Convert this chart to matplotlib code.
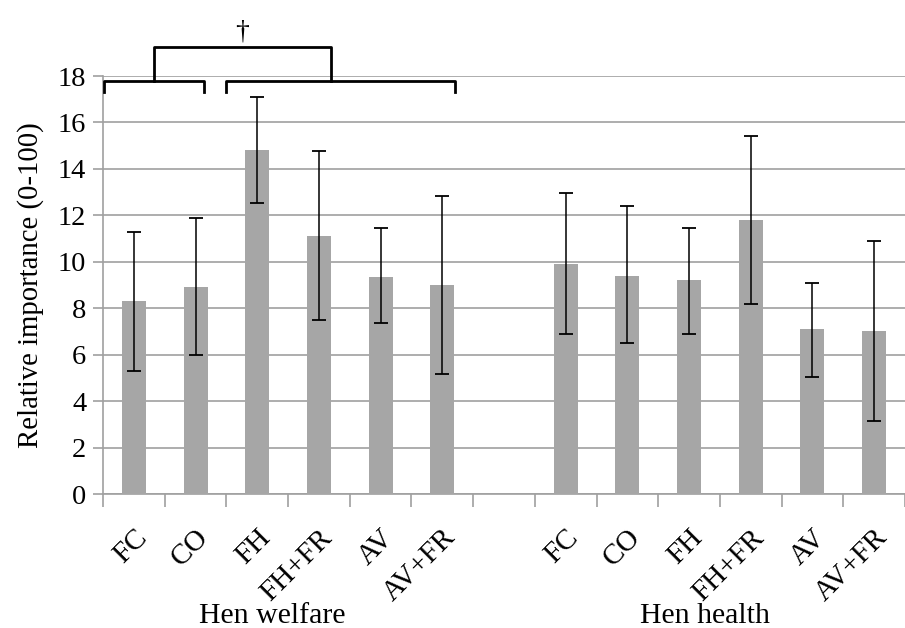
import matplotlib
matplotlib.use("Agg")
import matplotlib.pyplot as plt
import numpy as np

plt.rcParams["font.family"] = ["Liberation Serif", "DejaVu Serif"]

categories = ["FC", "CO", "FH", "FH+FR", "AV", "AV+FR"]
groups = ["Hen welfare", "Hen health"]

welfare_mean = [8.3, 8.9, 14.8, 11.1, 9.35, 9.0]
welfare_low  = [5.3, 6.0, 12.55, 7.5, 7.35, 5.15]
welfare_high = [11.3, 11.9, 17.1, 14.75, 11.45, 12.85]

health_mean = [9.9, 9.4, 9.2, 11.8, 7.1, 7.0]
health_low  = [6.9, 6.5, 6.9, 8.2, 5.05, 3.15]
health_high = [12.95, 12.4, 11.45, 15.4, 9.1, 10.9]

means = welfare_mean + [np.nan] + health_mean
lows = welfare_low + [np.nan] + health_low
highs = welfare_high + [np.nan] + health_high
labels = categories + [""] + categories

x = np.arange(len(means))
m = np.array(means)
err = np.array([m - np.array(lows), np.array(highs) - m])

fig = plt.figure(figsize=(9.05, 6.28), dpi=100)
ax = fig.add_axes([103 / 905, 1 - 494 / 628, (905 - 103) / 905, (494 - 76) / 628])

ax.bar(x, m, width=0.39, color="#A6A6A6", zorder=3)
ax.errorbar(x, m, yerr=err, fmt="none", ecolor="black", elinewidth=1.1,
            capsize=5, capthick=1.3, zorder=4)

ax.set_ylim(0, 18)
ax.set_xlim(-0.5, 12.37)
ax.set_yticks(np.arange(0, 19, 2))
ax.tick_params(axis="y", labelsize=20.5, length=7, color="#A0A0A0", width=1.2, pad=5)
ax.grid(axis="y", color="#A0A0A0", linewidth=1.2, zorder=0)

ax.set_xticks(x)
ax.set_xticklabels(labels, rotation=45, ha="right", rotation_mode="anchor", fontsize=21)
ax.tick_params(axis="x", which="major", length=0, pad=22)
ax.set_xticks(np.arange(-0.5, 13, 1), minor=True)
ax.tick_params(axis="x", which="minor", length=9, color="#A0A0A0", width=1.2)

for s in ["top", "right"]:
    ax.spines[s].set_visible(False)
for s in ["left", "bottom"]:
    ax.spines[s].set_color("#A0A0A0")
    ax.spines[s].set_linewidth(1.2)

ax.set_ylabel("Relative importance (0-100)", fontsize=20.7, labelpad=10)

# group labels
ax.text(2.25, -0.292, groups[0], transform=ax.get_xaxis_transform(),
        ha="center", va="center", fontsize=21.5)
ax.text(9.25, -0.292, groups[1], transform=ax.get_xaxis_transform(),
        ha="center", va="center", fontsize=21.5)

# significance brackets
kw = dict(color="black", linewidth=2, clip_on=False, zorder=5)
ax.plot([-0.48, -0.48, 1.14, 1.14], [17.3, 17.79, 17.79, 17.3], **kw)
ax.plot([1.49, 1.49, 5.21, 5.21], [17.3, 17.79, 17.79, 17.3], **kw)
ax.plot([0.32, 0.32, 3.19, 3.19], [17.79, 19.25, 19.25, 17.79], **kw)
ax.text(1.76, 19.35, "†", ha="center", va="bottom", fontsize=20)

plt.savefig("out.png", dpi=100)
